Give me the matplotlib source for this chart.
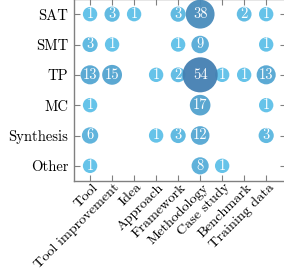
import matplotlib
matplotlib.use("Agg")
import matplotlib.pyplot as plt
import matplotlib.transforms as mtransforms
import numpy as np

rows = ["SAT", "SMT", "TP", "MC", "Synthesis", "Other"]
cols = ["Tool", "Tool improvement", "Idea", "Approach", "Framework",
        "Methodology", "Case study", "Benchmark", "Training data"]
# counts per row (None = no bubble)
sat = [1, 3, 1, None, 3, 38, None, 2, 1]
smt = [3, 1, None, None, 1, 9, None, None, 1]
tp = [13, 15, None, 1, 2, 54, 1, 1, 13]
mc = [1, None, None, None, None, 17, None, None, 1]
synthesis = [6, None, None, 1, 3, 12, None, None, 3]
other = [1, None, None, None, None, 8, 1, None, None]
table = [sat, smt, tp, mc, synthesis, other]

plt.rcParams['font.family'] = ['cmr10', 'DejaVu Serif']
plt.rcParams['axes.formatter.use_mathtext'] = True

fig = plt.figure(figsize=(2.84, 2.71), dpi=100)
ax = fig.add_axes([74/284, 90/271, 212/284, 182/271])

light = np.array([94, 192, 232]) / 255
dark = np.array([68, 128, 178]) / 255

xs, ys, vs = [], [], []
for r, vals in enumerate(table):
    for c, v in enumerate(vals):
        if v is not None:
            xs.append(c); ys.append(r); vs.append(v)
order = np.argsort(vs)
for i in order:
    x, y, v = xs[i], ys[i], vs[i]
    d = 14 + 0.39 * v
    t = ((v - 1) / 53) ** 0.6
    col = light * (1 - t) + dark * t
    ax.scatter([x], [y], s=(d * 0.72) ** 2, color=col, edgecolors='none',
               zorder=3, alpha=0.95)
    ax.text(x, y, str(v), color='white', ha='center', va='center',
            fontsize=10.5, zorder=4)

ax.set_xlim(-0.73, 8.9)
ax.set_ylim(5.5, -0.5)
ax.set_xticks(range(len(cols)))
ax.set_xticklabels(cols, rotation=45, ha='right', va='center',
                   rotation_mode='anchor', fontsize=10.2)
ax.set_yticks(range(len(rows)))
ax.set_yticklabels(rows, fontsize=10.5)
ax.tick_params(direction='in', length=4, color='#808080', width=0.8,
               top=True, right=True, pad=4)
ax.tick_params(axis='x', pad=4)
offset = mtransforms.ScaledTranslation(6/100, 1/100, fig.dpi_scale_trans)
for lbl in ax.get_xticklabels():
    lbl.set_transform(lbl.get_transform() + offset)
for s in ax.spines.values():
    s.set_color('#808080')
    s.set_linewidth(1.0)

fig.savefig("out.png", dpi=100)
